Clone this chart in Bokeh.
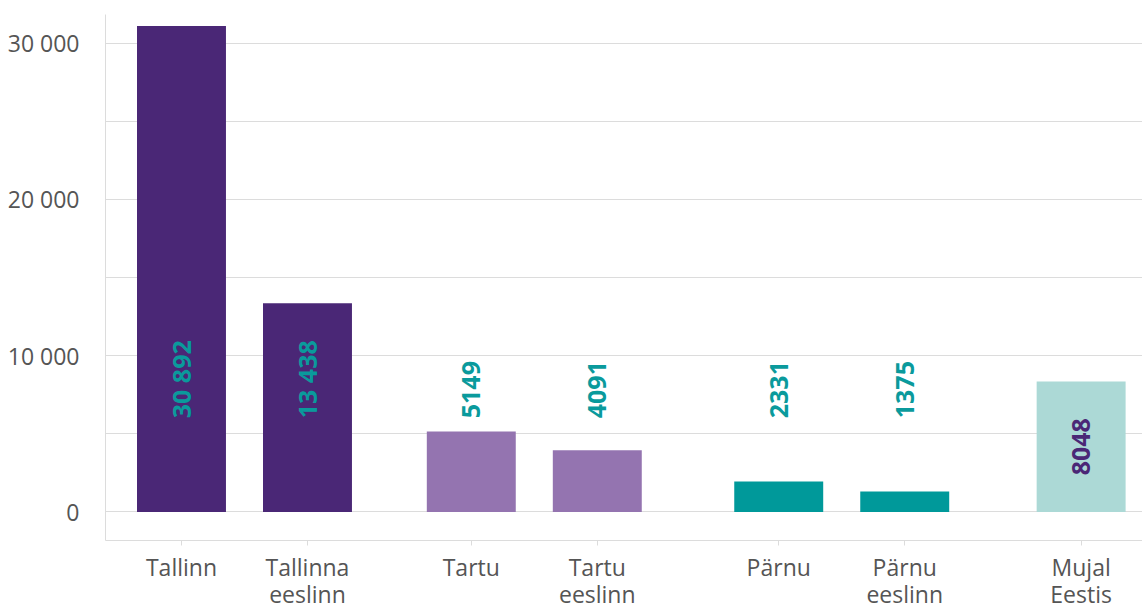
from bokeh.plotting import figure
from bokeh.models import ColumnDataSource, Range1d, FixedTicker
from bokeh.core.properties import value
from bokeh.embed import file_html
from bokeh.resources import INLINE
import math

# ---- data ----
categories = ["Tallinn", "Tallinna\neeslinn", "Tartu", "Tartu\neeslinn",
              "Pärnu", "Pärnu\neeslinn", "Mujal\nEestis"]
group_sizes = [2, 2, 2, 1]
bar_values = [31100, 13350, 5150, 3950, 1950, 1310, 8350]
label_texts = ["30 892", "13 438", "5149", "4091", "2331", "1375", "8048"]
bar_colors = ["#4a2776", "#4a2776", "#9474b0", "#9474b0", "#00999a", "#00999a", "#acd9d6"]
label_colors = ["#0a9a9c"] * 6 + ["#4a2776"]
y_tick_values = [0, 10000, 20000, 30000]
y_tick_labels = ["0", "10 000", "20 000", "30 000"]
grid_values = [0, 5000, 10000, 15000, 20000, 25000, 30000]

# ---- layout of categories (extra space after each group) ----
GROUP_GAPS = [0.30, 0.44, 0.40, 0.0]
xs = []
pos = 0.0
for n, gap in zip(group_sizes, GROUP_GAPS):
    for k in range(n):
        xs.append(pos)
        pos += 1.0
    pos += gap

FONT = "Open Sans"

label_y = []
label_align = []
for i, v in enumerate(bar_values):
    if i == len(bar_values) - 1:
        label_y.append(v / 2.0)
        label_align.append("center")
    else:
        label_y.append(6000)
        label_align.append("left")

src = ColumnDataSource(dict(x=xs, top=bar_values, color=bar_colors,
                            ly=label_y, txt=label_texts, tcolor=label_colors,
                            align=label_align))

p = figure(width=1142, height=612, output_backend="svg", toolbar_location=None,
           x_range=Range1d(-0.603, 7.627), y_range=Range1d(-1824, 31835),
           min_border_left=105, min_border_right=0, min_border_top=14,
           min_border_bottom=72)
p.outline_line_color = None
p.background_fill_color = "white"
p.border_fill_color = "white"

p.vbar(x="x", top="top", bottom=0, width=0.706, color="color", line_color=None, source=src)

p.text(x="x", y="ly", text="txt", angle=math.pi / 2, text_color="tcolor",
       text_align="align", text_baseline="middle",
       text_font=value(FONT), text_font_style="bold", text_font_size="25px",
       source=src)

# grid
p.xgrid.grid_line_color = None
p.ygrid.ticker = FixedTicker(ticks=grid_values)
p.ygrid.grid_line_color = "#dcdcdc"
p.ygrid.grid_line_width = 1

# y axis
p.yaxis.ticker = FixedTicker(ticks=y_tick_values)
p.yaxis.major_label_overrides = {v: l for v, l in zip(y_tick_values, y_tick_labels)}
p.yaxis.major_tick_line_color = None
p.yaxis.minor_tick_line_color = None
p.yaxis.axis_line_color = "#dcdcdc"
p.yaxis.major_label_text_font = FONT
p.yaxis.major_label_text_font_size = "23px"
p.yaxis.major_label_text_color = "#555555"
p.yaxis.major_label_standoff = 20

# x axis
p.xaxis.ticker = FixedTicker(ticks=xs)
p.xaxis.major_label_overrides = {x: c for x, c in zip(xs, categories)}
p.xaxis.major_tick_line_color = "#dcdcdc"
p.xaxis.major_tick_out = 5
p.xaxis.major_tick_in = 0
p.xaxis.minor_tick_line_color = None
p.xaxis.axis_line_color = "#dcdcdc"
p.xaxis.major_label_text_font = FONT
p.xaxis.major_label_text_font_size = "23px"
p.xaxis.major_label_text_color = "#555555"
p.xaxis.major_label_text_line_height = 0.85
p.xaxis.major_label_standoff = 5

open("out.html", "w").write(file_html(p, INLINE))
